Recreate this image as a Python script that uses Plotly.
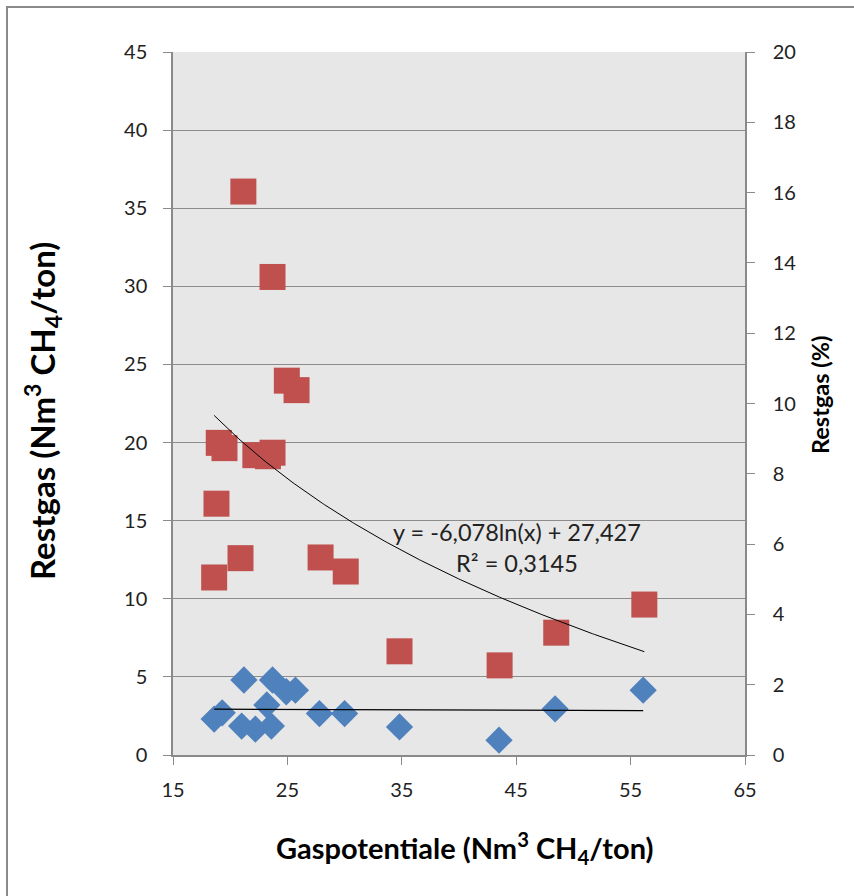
import numpy as np
import plotly.graph_objects as go

# Blue diamonds: Restgas (Nm3 CH4/ton), left axis
blue_x = [18.6, 19.3, 21.0, 21.2, 22.2, 23.2, 23.6, 23.7, 24.9, 25.7, 27.8, 30.0, 34.8, 43.5, 48.4, 56.1]
blue_y = [2.3, 2.7, 1.85, 4.8, 1.65, 3.2, 1.85, 4.8, 4.05, 4.15, 2.65, 2.65, 1.8, 0.95, 2.95, 4.15]

# Red squares: Restgas (%), right axis
red_x = [18.6, 18.8, 19.0, 19.5, 20.9, 21.15, 22.2, 23.3, 23.7, 23.7, 24.95, 25.8, 27.9, 30.1, 34.8, 43.55, 48.5, 56.2]
red_y = [5.05, 7.15, 8.88, 8.73, 5.6, 16.03, 8.53, 8.5, 8.6, 13.6, 10.65, 10.38, 5.62, 5.22, 2.95, 2.55, 3.48, 4.28]

# Logarithmic trendline of the red series (as printed on the chart)
trend_a = -6.078
trend_b = 27.427
trend_label = ["y = -6,078ln(x) + 27,427", "R² = 0,3145"]

x_ticks = [15, 25, 35, 45, 55, 65]

L, R, T, B = 173, 109, 52, 141
W, H = 854, 896
PW, PH = W - L - R, H - T - B


def px(xp):
    return (xp - L) / PW


def py(yp):
    return (H - B - yp) / PH


fig = go.Figure()

fig.add_trace(go.Scatter(
    x=blue_x, y=blue_y, mode="markers", yaxis="y",
    marker=dict(symbol="diamond", size=21, color="#4F81BD", line=dict(width=0)),
    showlegend=False))

fig.add_trace(go.Scatter(
    x=red_x, y=red_y, mode="markers", yaxis="y2",
    marker=dict(symbol="square", size=26, color="#C0504D", line=dict(width=0)),
    showlegend=False))

# trendlines
xmin, xmax = min(red_x), max(red_x)
tx = np.linspace(xmin, xmax, 200)
fig.add_trace(go.Scatter(x=tx, y=trend_a * np.log(tx) + trend_b, mode="lines", yaxis="y2",
                         line=dict(color="black", width=1), showlegend=False, hoverinfo="skip"))

bs, bi = np.polyfit(blue_x, blue_y, 1)
bxs = np.array([min(blue_x), max(blue_x)])
fig.add_trace(go.Scatter(x=bxs, y=bs * bxs + bi, mode="lines", yaxis="y",
                         line=dict(color="black", width=1.3), showlegend=False, hoverinfo="skip"))

font = "Lato, 'Open Sans', sans-serif"
axis_col = "#8a8a8a"

fig.update_layout(
    width=W, height=H,
    margin=dict(l=L, r=R, t=T, b=B),
    paper_bgcolor="white", plot_bgcolor="#E7E7E7",
    font=dict(family=font, size=20, color="#222"),
    xaxis=dict(range=[15, 65], tickvals=x_ticks, ticks="outside", ticklen=8, tickcolor=axis_col,
               showline=True, linecolor=axis_col, linewidth=1.5, showgrid=False, zeroline=False,
               ticklabelstandoff=8, tickfont=dict(size=20)),
    yaxis=dict(range=[0, 45], dtick=5, ticks="outside", ticklen=8, tickcolor=axis_col,
               showline=True, linecolor=axis_col, linewidth=1.5, showgrid=True, gridcolor="#8c8c8c",
               gridwidth=1, zeroline=False, ticklabelstandoff=12, tickfont=dict(size=20)),
    yaxis2=dict(range=[0, 20], dtick=2, overlaying="y", side="right", ticks="outside", ticklen=8,
                tickcolor=axis_col, showline=True, linecolor=axis_col, linewidth=1.5,
                showgrid=False, zeroline=False, ticklabelstandoff=14, tickfont=dict(size=20)),
)

# axis titles
fig.add_annotation(x=px(464), y=py(848), xref="paper", yref="paper", showarrow=False,
                   text="<b>Gaspotentiale (Nm<sup>3</sup> CH<sub>4</sub>/ton)</b>",
                   font=dict(size=29, color="#000"), xanchor="center", yanchor="middle")
fig.add_annotation(x=px(42), y=py(411), xref="paper", yref="paper", showarrow=False,
                   text="<b>Restgas (Nm<sup>3</sup> CH<sub>4</sub>/ton)</b>", textangle=-90,
                   font=dict(size=33, color="#000"), xanchor="center", yanchor="middle")
fig.add_annotation(x=px(820), y=py(395), xref="paper", yref="paper", showarrow=False,
                   text="<b>Restgas (%)</b>", textangle=-90,
                   font=dict(size=23.5, color="#000"), xanchor="center", yanchor="middle")

# trendline equation
fig.add_annotation(x=px(517), y=py(547), xref="paper", yref="paper",
                   text="<br>".join(trend_label), showarrow=False,
                   font=dict(size=23.5, color="#222"), align="center",
                   xanchor="center", yanchor="middle")

# chart-area border
fig.add_shape(type="rect", xref="paper", yref="paper",
              x0=px(7), x1=px(W + 10), y0=py(H + 10), y1=py(7),
              line=dict(color="#8a8a8a", width=2), fillcolor="rgba(0,0,0,0)", layer="below")

fig.write_html("out.html")
